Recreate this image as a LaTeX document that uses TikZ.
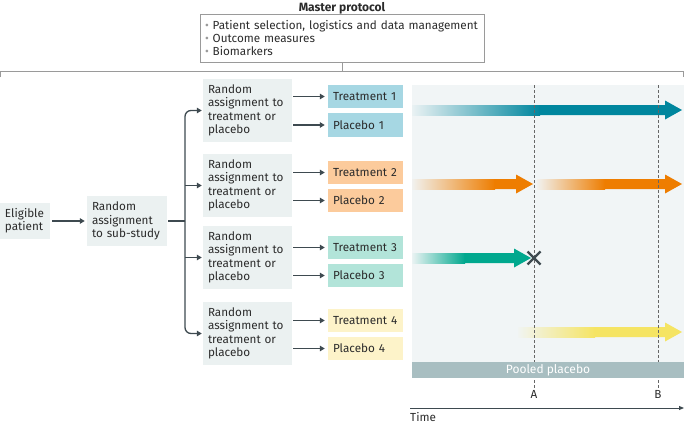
\documentclass[tikz,border=0pt]{standalone}
\usepackage{fontspec}
\setmainfont{Fira Sans}
\usetikzlibrary{arrows.meta}
\definecolor{txt}{HTML}{2B2B2B}
\definecolor{linegray}{HTML}{9A9A9A}
\definecolor{boxgray}{HTML}{EBF1F1}
\definecolor{panel}{HTML}{F1F5F6}
\definecolor{tone}{HTML}{A6D7E3}
\definecolor{ttwo}{HTML}{FCCB9C}
\definecolor{tthree}{HTML}{B2E4D9}
\definecolor{tfour}{HTML}{FDF3C9}
\definecolor{pooled}{HTML}{A8BEC1}
\definecolor{darkarrow}{HTML}{3E4A50}
\definecolor{aone}{HTML}{00869E}
\definecolor{atwo}{HTML}{EE7D00}
\definecolor{athree}{HTML}{00A88E}
\definecolor{afour}{HTML}{F5E463}
\newcommand{\mygarrow}[6]{% xs, xf, xt, yc, color, name
  \shade[left color=#5!3!panel, right color=#5] (#1,#4-5) rectangle (#2,#4+5);
  \fill[#5] (#2-0.5,#4-5) -- (#3-17,#4-5) -- (#3-17,#4-9.5) -- (#3,#4) -- (#3-17,#4+9.5) -- (#3-17,#4+5) -- (#2-0.5,#4+5) -- cycle;
  \coordinate (#6) at (#3,#4);
}
\begin{document}
\begin{tikzpicture}[x=1pt,y=-1pt,
  font=\fontsize{11.7}{13.3}\selectfont, text=txt,
  gbox/.style={fill=boxgray, draw=none, inner xsep=5pt, inner ysep=0pt, align=left},
  tbox/.style={draw=none, inner xsep=5pt, inner ysep=0pt, align=left, minimum width=75, minimum height=23.5, text width=65},
  conn/.style={draw=darkarrow, line width=1.3pt, -{Triangle[length=5pt,width=5.5pt]}},
  plainconn/.style={draw=darkarrow, line width=1.3pt},
  dashline/.style={draw=black!60, dash pattern=on 3pt off 2pt, line width=0.6pt},
]
\useasboundingbox (0,0) rectangle (684,423);

% master protocol
\node[font=\fontsize{12}{13.3}\selectfont\bfseries] (title) at (342,8.5) {Master protocol};
\node[draw=linegray, line width=0.8pt, minimum width=284, minimum height=48, text width=274, inner xsep=5pt, inner ysep=0pt, align=left] (master) at (342,38)
 {\textcolor{linegray}{•} Patient selection, logistics and data management\\
  \textcolor{linegray}{•} Outcome measures\\
  \textcolor{linegray}{•} Biomarkers};
\coordinate (hl) at (0.5,71);
\coordinate (hr) at (683.5,71);
\coordinate (hm) at (342,71);
\draw[linegray, line width=0.8pt] (0.5,77) -- (hl) -- (hr) -- (683.5,77);
\draw[linegray, line width=0.8pt] (master.south) -- (hm);

% right panel
\fill[panel] (412,85) rectangle (684,362);

% left boxes
\node[gbox, minimum width=50, minimum height=36, text width=40] (elig) at (25,221) {Eligible\\patient};
\node[gbox, minimum width=80, minimum height=50, text width=70] (sub) at (127,221) {Random\\assignment\\to sub-study};

\node[gbox, minimum width=89, minimum height=63, text width=79] (ra1) at (247.5,110.5) {Random\\assignment to\\treatment or\\placebo};
\node[gbox, minimum width=89, minimum height=63, text width=79] (ra2) at (247.5,185.5) {Random\\assignment to\\treatment or\\placebo};
\node[gbox, minimum width=89, minimum height=63, text width=79] (ra3) at (247.5,257.5) {Random\\assignment to\\treatment or\\placebo};
\node[gbox, minimum width=89, minimum height=63, text width=79] (ra4) at (247.5,333.5) {Random\\assignment to\\treatment or\\placebo};

\node[tbox, fill=tone] (t1) at (365.5,96.5) {Treatment 1};
\node[tbox, fill=tone] (p1) at (365.5,125) {Placebo 1};
\node[tbox, fill=ttwo] (t2) at (365.5,172.5) {Treatment 2};
\node[tbox, fill=ttwo] (p2) at (365.5,200.5) {Placebo 2};
\node[tbox, fill=tthree] (t3) at (365.5,247.5) {Treatment 3};
\node[tbox, fill=tthree] (p3) at (365.5,275.5) {Placebo 3};
\node[tbox, fill=tfour] (t4) at (365.5,320.5) {Treatment 4};
\node[tbox, fill=tfour] (p4) at (365.5,348.5) {Placebo 4};

% connectors
\draw[conn, shorten <=2pt, shorten >=2pt] (elig) -- (sub);
\coordinate (trunk) at (185,221);
\draw[plainconn, shorten <=1pt] (sub.east) -- (trunk);
\draw[conn, rounded corners=6pt, shorten >=1pt] (trunk) |- (ra1.west);
\draw[conn, rounded corners=6pt, shorten >=1pt] (trunk) |- (ra4.west);
\draw[conn, shorten >=1pt] (trunk |- ra2.west) -- (ra2.west);
\draw[conn, shorten >=1pt] (trunk |- ra3.west) -- (ra3.west);

\foreach \r/\t/\p in {ra1/t1/p1, ra2/t2/p2, ra3/t3/p3, ra4/t4/p4}{
  \draw[conn, shorten <=1pt, shorten >=3pt] (\r.east |- \t.west) -- (\t.west);
  \draw[conn, shorten <=1pt, shorten >=3pt] (\r.east |- \p.west) -- (\p.west);
}

% time arrows
\mygarrow{412}{540}{682}{110}{aone}{e1}
\mygarrow{412}{495}{533}{184}{atwo}{e2a}
\mygarrow{537}{605}{682}{184}{atwo}{e2b}
\mygarrow{412}{465}{531}{258}{athree}{e3}
\mygarrow{518}{595}{682}{332}{afour}{e4}

% dashed lines and labels
\node[inner sep=1pt] (A) at (534,394) {A};
\node[inner sep=1pt] (B) at (658,394) {B};
\coordinate (Atop) at (534,85);
\coordinate (Btop) at (658,85);
\draw[dashline] (Atop) -- (A.north);
\draw[dashline] (Btop) -- (B.north);

% pooled placebo bar (over dashed lines)
\node[fill=pooled, minimum width=272, minimum height=16, inner sep=0pt, text=white, font=\fontsize{12}{13}\selectfont] (pool) at (548,370) {Pooled placebo};

% X mark
\coordinate (xm) at (534,258);
\draw[darkarrow, line width=2.4pt] ([shift={(-6.5,-6.5)}]xm) -- ([shift={(6.5,6.5)}]xm);
\draw[darkarrow, line width=2.4pt] ([shift={(-6.5,6.5)}]xm) -- ([shift={(6.5,-6.5)}]xm);

% time axis
\coordinate (ts) at (410,408);
\coordinate (te) at (684,408);
\draw[darkarrow, line width=0.9pt, -{Triangle[length=5pt,width=4pt]}] (ts) -- (te);
\node[anchor=west, inner sep=0pt] (time) at (410,416.5) {Time};
\end{tikzpicture}
\end{document}
